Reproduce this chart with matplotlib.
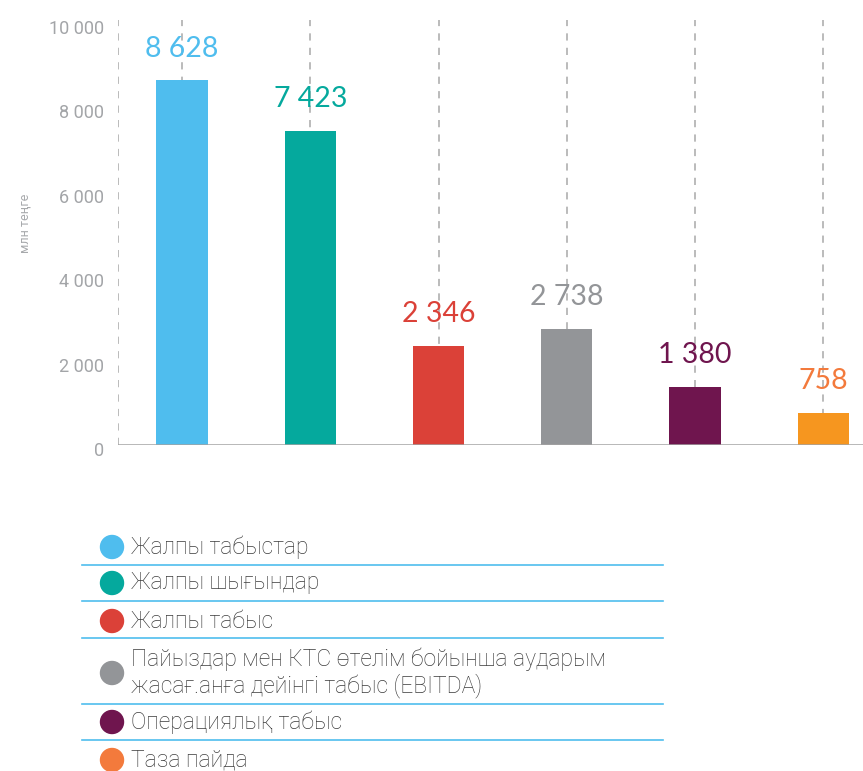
import matplotlib
matplotlib.use("Agg")
import matplotlib.pyplot as plt
from matplotlib.patches import Circle
from matplotlib.transforms import ScaledTranslation

categories = ["Жалпы табыстар", "Жалпы шығындар", "Жалпы табыс",
              "Пайыздар мен КТС өтелім бойынша аударым\nжасағ.анға дейінгі табыс (EBITDA)",
              "Операциялық табыс", "Таза пайда"]
values = [8628, 7423, 2346, 2738, 1380, 758]
value_labels = ["8 628", "7 423", "2 346", "2 738", "1 380", "758"]
bar_colors = ["#4FBDEE", "#05A99D", "#DB4138", "#939598", "#6F154E", "#F6961F"]
label_colors = ["#4FBDEE", "#05A99D", "#DB4138", "#939598", "#6F154E", "#F37A3C"]
legend_colors = ["#4FBDEE", "#05A99D", "#DB4138", "#939598", "#6F154E", "#F37A3C"]
yticks = [0, 2000, 4000, 6000, 8000, 10000]
ytick_labels = ["0", "2 000", "4 000", "6 000", "8 000", "10 000"]
y_label = "млн теңге"

W, H = 863, 771
fig = plt.figure(figsize=(W / 100, H / 100), dpi=100)
fig.patch.set_facecolor("white")

ax = fig.add_axes([118 / W, (H - 445) / H, (W - 118) / W, (445 - 20) / H])
ax.set_xlim(-0.5, 5.31)
ax.set_ylim(0, 10060)
for s in ax.spines.values():
    s.set_visible(False)

x = list(range(len(values)))
# dashed guide lines
ax.axvline(-0.5, color="#B5B5B5", lw=1.3, ls=(0, (4, 4)), zorder=1)
for xi in x:
    ax.axvline(xi, color="#B5B5B5", lw=1.3, ls=(0, (4, 4)), zorder=1)
ax.bar(x, values, width=0.4, color=bar_colors, zorder=2)
ax.axhline(0, color="#A3A3A3", lw=1.8, zorder=3)

for xi, v, t, c in zip(x, values, value_labels, label_colors):
    ax.annotate(t, (xi, v), xytext=(0, 23), textcoords="offset points",
                ha="center", va="center", fontsize=20.5, color=c,
                family=["Lato", "DejaVu Sans"], zorder=4)

ax.set_xticks([])
ax.set_yticks(yticks)
ax.set_yticklabels(ytick_labels, family=["Roboto", "DejaVu Sans"],
                   fontsize=13, color="#A3A5A8")
ax.tick_params(axis="y", length=0, pad=10)
off = ScaledTranslation(0, -4 / 100, fig.dpi_scale_trans)
for lab in ax.get_yticklabels():
    lab.set_transform(lab.get_transform() + off)

fig.text(25 / W, 1 - 223 / H, y_label, rotation=90, ha="center", va="center",
         fontsize=9, color="#A7A9AC", family=["Roboto", "DejaVu Sans"])

# legend in pixel coordinates
lg = fig.add_axes([0, 0, 1, 1], zorder=5)
lg.set_xlim(0, W)
lg.set_ylim(H, 0)
lg.axis("off")
lg.patch.set_alpha(0)
row_y = [547, 583, 621, 673, 722, 760]
line_y = [565, 601, 638, 704, 740]
for ly in line_y:
    lg.plot([82, 663], [ly, ly], color="#4FBDEE", lw=1.2)
for ry, name, c in zip(row_y, categories, legend_colors):
    lg.add_patch(Circle((112, ry), 11.5, color=c))
    lg.text(131, ry, name, ha="left", va="center", fontsize=16.5, color="#3C3C3C",
            family=["Roboto", "DejaVu Sans"], fontweight="light", linespacing=1.12)

fig.savefig("out.png", dpi=100, facecolor="white")
